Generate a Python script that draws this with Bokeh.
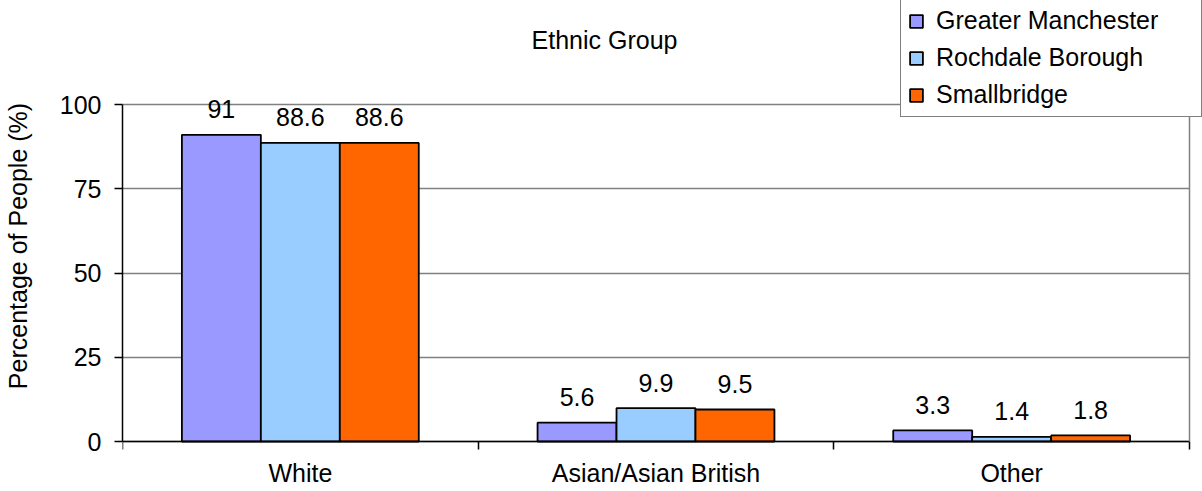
from bokeh.plotting import figure
from bokeh.models import (ColumnDataSource, Range1d, FixedTicker, LabelSet, Label,
                          Legend, LegendItem, LinearAxis)
from bokeh.core.properties import value
from bokeh.transform import dodge
from bokeh.embed import file_html
from bokeh.resources import INLINE

categories = ["White", "Asian/Asian British", "Other"]
series_names = ["Greater Manchester", "Rochdale Borough", "Smallbridge"]
greater_manchester = [91, 5.6, 3.3]
rochdale_borough = [88.6, 9.9, 1.4]
smallbridge = [88.6, 9.5, 1.8]
colors = ["#9999FF", "#99CCFF", "#FF6600"]
y_ticks = [0, 25, 50, 75, 100]
title_text = "Ethnic Group"
y_label = "Percentage of People (%)"

FONT = "Liberation Sans"
FS = "25px"

W, H = 1202, 491
LEFT, RIGHT = 122, 1189          # x=0 and x=3 (px)
TOP, BOTTOM = 104, 441           # y=100 and y=0 (px)
ppu_y = (BOTTOM - TOP) / 100.0
ppu_x = (RIGHT - LEFT) / 3.0
y0 = -(H - BOTTOM) / ppu_y
y1 = 100 + TOP / ppu_y
x1 = (W - LEFT) / ppu_x

p = figure(width=W, height=H, output_backend="svg", toolbar_location=None,
           x_range=Range1d(0, x1), y_range=Range1d(y0, y1),
           min_border_left=LEFT, min_border_right=0, min_border_top=0,
           min_border_bottom=0)
p.background_fill_color = "white"
p.border_fill_color = "white"
p.outline_line_color = None

src = ColumnDataSource(dict(
    xc=[i + 0.5 for i in range(len(categories))],
    cat=categories,
    gm=greater_manchester, rb=rochdale_borough, sb=smallbridge,
    gm_t=[f"{v:g}" for v in greater_manchester],
    rb_t=[f"{v:g}" for v in rochdale_borough],
    sb_t=[f"{v:g}" for v in smallbridge],
))

bw = 0.222
renderers = []
for j, (col, name, c) in enumerate(zip(["gm", "rb", "sb"], series_names, colors)):
    off = (j - 1) * bw
    r = p.vbar(x=dodge("xc", off, range=p.x_range), top=col, width=bw, source=src,
               fill_color=c, line_color="black", line_width=1.8)
    renderers.append(r)
    ls = LabelSet(x=dodge("xc", off, range=p.x_range), y=col, text=col + "_t", source=src,
                  y_offset=16.5, text_align="center", text_baseline="alphabetic",
                  text_font=value(FONT), text_font_size=value(FS), text_color="black")
    p.add_layout(ls)

# category labels
cl = LabelSet(x="xc", y=H - 481, y_units="screen", text="cat", source=src,
              text_align="center", text_baseline="alphabetic",
              text_font=value(FONT), text_font_size=value(FS), text_color="black")
p.add_layout(cl)

# x axis at y=0
p.xaxis.fixed_location = 0
p.xaxis.bounds = (0, 3)
p.xaxis.ticker = FixedTicker(ticks=[], minor_ticks=[0, 1, 2, 3])
p.xaxis.axis_line_color = "black"
p.xaxis.axis_line_width = 1.5
p.xaxis.minor_tick_line_color = "black"
p.xaxis.minor_tick_line_width = 1.5
p.xaxis.minor_tick_out = 8
p.xaxis.minor_tick_in = 0
p.xaxis.major_tick_line_color = None
p.xgrid.visible = False

# y axis
p.yaxis.bounds = (0, 100)
p.yaxis.ticker = FixedTicker(ticks=y_ticks)
p.yaxis.minor_tick_line_color = None
p.yaxis.axis_line_color = "black"
p.yaxis.axis_line_width = 1.5
p.yaxis.major_tick_line_color = "black"
p.yaxis.major_tick_line_width = 1.5
p.yaxis.major_tick_out = 8
p.yaxis.major_tick_in = 0
p.yaxis.major_label_standoff = 13
p.yaxis.major_label_text_font = FONT
p.yaxis.major_label_text_font_size = FS
p.yaxis.major_label_text_color = "black"
p.yaxis.axis_label = y_label
p.yaxis.axis_label_text_font = FONT
p.yaxis.axis_label_text_font_size = FS
p.yaxis.axis_label_text_font_style = "normal"
p.yaxis.axis_label_text_color = "black"
p.yaxis.axis_label_standoff = 25
p.ygrid.ticker = FixedTicker(ticks=y_ticks)
p.ygrid.grid_line_color = "#808080"
p.ygrid.grid_line_width = 1.5
p.ygrid.cross_bounds = (0, 3)

# right border of the plot area
rax = LinearAxis(fixed_location=3, bounds=(0, 100), ticker=FixedTicker(ticks=[]),
                 axis_line_color="#808080", axis_line_width=1.5,
                 major_tick_line_color=None, minor_tick_line_color=None,
                 major_label_text_font_size="0px")
p.add_layout(rax, "right")

# title
p.add_layout(Label(x=604 - LEFT, y=H - 39.5, x_units="screen", y_units="screen",
                   text=title_text, text_align="center", text_baseline="alphabetic",
                   text_font=FONT, text_font_size=FS, text_color="black"))

legend = Legend(items=[LegendItem(label=n, renderers=[r]) for n, r in zip(series_names, renderers)],
                location=(900 - LEFT, H - 117), orientation="vertical",
                label_text_font=FONT, label_text_font_size=FS, label_text_color="black",
                glyph_width=16, glyph_height=16, label_standoff=12, label_width=258,
                label_height=27, spacing=8, padding=7, margin=0,
                border_line_color="black", border_line_width=1.2,
                background_fill_color="white", background_fill_alpha=1.0)
p.add_layout(legend, "center")

open("out.html", "w").write(file_html(p, INLINE))
